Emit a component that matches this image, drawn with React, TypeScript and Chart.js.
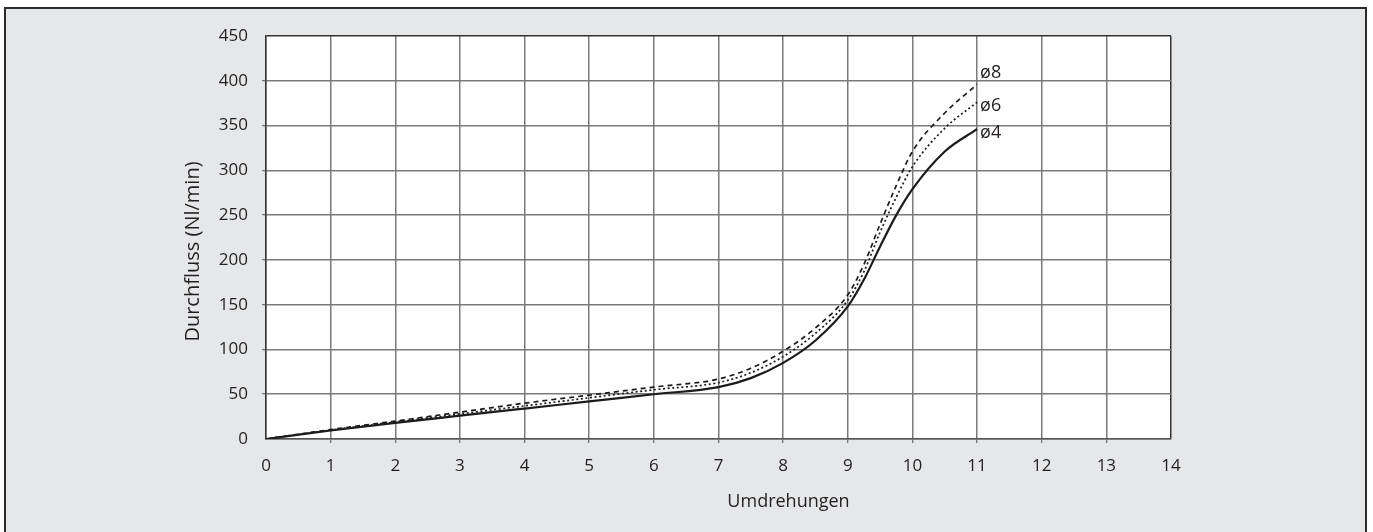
import React, { useEffect, useRef } from 'react';
import { Chart, registerables } from 'chart.js';

Chart.register(...registerables);

// Umdrehungen (turns)
const turns = [0, 1, 2, 3, 4, 5, 6, 7, 7.5, 8, 8.5, 9, 9.25, 9.5, 9.75, 10, 10.5, 11];
// Durchfluss (Nl/min) per nozzle diameter
const flowD4 = [0, 9.5, 18, 26, 34, 42, 50, 58, 68, 85, 110, 148, 178, 215, 250, 279, 321, 346];
const flowD6 = [0, 10, 19, 28, 37, 46, 55, 63, 74, 92, 118, 155, 187, 231, 270, 304, 347, 376];
const flowD8 = [0, 10.5, 20, 30, 40, 49, 58, 67, 79, 98, 124, 161, 195, 240, 283, 321, 364, 396];

const seriesNames = ['ø4', 'ø6', 'ø8'];
const endLabelX = 11;
const endLabelY = [342, 372, 409];

const xTitle = 'Umdrehungen';
const yTitle = 'Durchfluss (Nl/min)';
const xMin = 0, xMax = 14, xStep = 1;
const yMin = 0, yMax = 450, yStep = 50;

const INK = '#231f20';
const FONT = "'Open Sans', sans-serif";

const toPoints = (ys: number[]) => ys.map((y, i) => ({ x: turns[i], y }));

export default function App() {
  const ref = useRef<HTMLCanvasElement | null>(null);

  useEffect(() => {
    if (!ref.current) return;

    const plotBg = {
      id: 'plotBg',
      beforeDraw(chart: any) {
        const { ctx, chartArea: a } = chart;
        ctx.save();
        ctx.fillStyle = '#ffffff';
        ctx.fillRect(a.left, a.top, a.right - a.left, a.bottom - a.top);
        ctx.restore();
      },
    };

    const textLayer = {
      id: 'textLayer',
      afterDatasetsDraw(chart: any) {
        const { ctx, scales, chartArea: a } = chart;
        ctx.save();
        ctx.fillStyle = INK;
        ctx.font = `18px ${FONT}`;
        ctx.textAlign = 'left';
        ctx.textBaseline = 'middle';
        seriesNames.forEach((name, i) => {
          const x = scales.x.getPixelForValue(endLabelX) + 3;
          const y = scales.y.getPixelForValue(endLabelY[i]);
          ctx.fillText(name, x, y);
        });

        // axis titles
        ctx.font = `18px ${FONT}`;
        ctx.textAlign = 'center';
        ctx.textBaseline = 'middle';
        const xc = (a.left + a.right) / 2 + 70;
        ctx.fillText(xTitle, xc, a.bottom + 63);

        ctx.font = `20px ${FONT}`;
        ctx.translate(a.left - 73, (a.top + a.bottom) / 2 + 14);
        ctx.rotate(-Math.PI / 2);
        ctx.fillText(yTitle, 0, 0);
        ctx.restore();
      },
    };

    const gridColor = (isEdge: boolean) => (isEdge ? '#333333' : '#7a7a7a');

    const chart = new Chart(ref.current, {
      type: 'line',
      data: {
        datasets: [
          {
            label: seriesNames[0],
            data: toPoints(flowD4),
            borderColor: '#1c1a1b',
            borderWidth: 2.2,
            pointRadius: 0,
            cubicInterpolationMode: 'monotone',
            fill: false,
          },
          {
            label: seriesNames[1],
            data: toPoints(flowD6),
            borderColor: '#1c1a1b',
            borderWidth: 1.7,
            borderDash: [2, 2.6],
            pointRadius: 0,
            cubicInterpolationMode: 'monotone',
            fill: false,
          },
          {
            label: seriesNames[2],
            data: toPoints(flowD8),
            borderColor: '#1c1a1b',
            borderWidth: 1.7,
            borderDash: [5, 4],
            pointRadius: 0,
            cubicInterpolationMode: 'monotone',
            fill: false,
          },
        ],
      },
      options: {
        responsive: false,
        animation: false,
        layout: { padding: { left: 0, top: 36, right: 202, bottom: 0 } },
        plugins: {
          legend: { display: false },
          tooltip: { enabled: false },
        },
        scales: {
          x: {
            type: 'linear',
            min: xMin,
            max: xMax,
            afterFit: (s: any) => {
              s.height = 93;
            },
            ticks: {
              stepSize: xStep,
              color: INK,
              font: { family: FONT, size: 17 },
              padding: 13,
              maxRotation: 0,
              autoSkip: false,
            },
            grid: {
              color: (c: any) => gridColor(c.tick && c.tick.value === xMax),
              lineWidth: 1.5,
              drawTicks: true,
              tickLength: 4,
              tickColor: (c: any) =>
                c.tick && (c.tick.value === xMin || c.tick.value === xMax) ? 'rgba(0,0,0,0)' : '#555555',
              tickWidth: 1,
            },
            border: { display: true, color: '#555555', width: 1.5 },
            title: { display: false },
          },
          y: {
            type: 'linear',
            min: yMin,
            max: yMax,
            afterFit: (s: any) => {
              s.width = 266;
            },
            ticks: {
              stepSize: yStep,
              color: INK,
              font: { family: FONT, size: 17 },
              padding: 14,
            },
            grid: {
              color: (c: any) => gridColor(c.tick && c.tick.value === yMax),
              lineWidth: 1.5,
              drawTicks: true,
              tickLength: 4,
              tickColor: (c: any) =>
                c.tick && (c.tick.value === yMin || c.tick.value === yMax) ? 'rgba(0,0,0,0)' : '#555555',
              tickWidth: 1,
            },
            border: { display: true, color: '#333333', width: 1.5 },
            title: { display: false },
          },
        },
      },
      plugins: [plotBg, textLayer],
    } as any);

    return () => chart.destroy();
  }, []);

  return (
    <div style={{ position: 'fixed', left: 0, top: 0, width: 1373, height: 532, overflow: 'hidden', background: '#ffffff' }}>
      <div
        style={{
          position: 'absolute',
          left: 4,
          top: 7,
          width: 1363,
          height: 540,
          boxSizing: 'border-box',
          border: '2px solid #2b2b2b',
          background: '#e6e7e8',
        }}
      />
      <canvas
        ref={ref}
        width={1373}
        height={532}
        style={{ position: 'absolute', left: 0, top: 0, width: 1373, height: 532 }}
      />
    </div>
  );
}
